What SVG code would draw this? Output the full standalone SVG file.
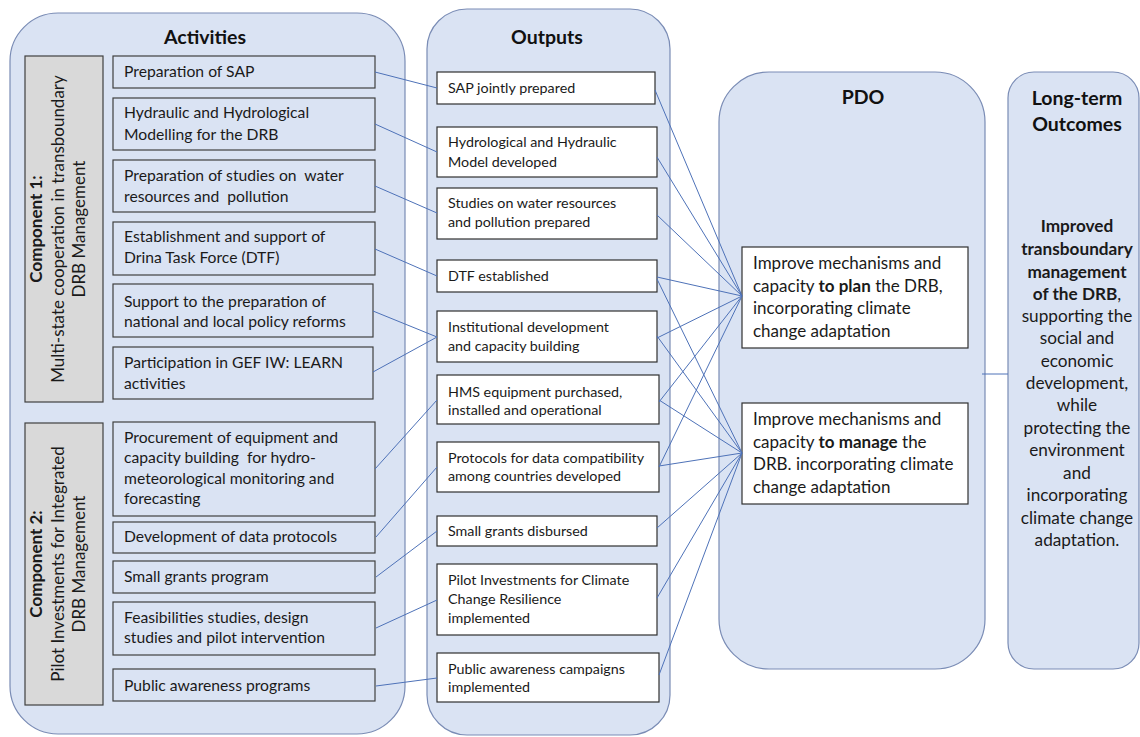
<svg xmlns="http://www.w3.org/2000/svg" width="1140" height="737" viewBox="0 0 1140 737">
<style>
.cont{fill:#DAE3F3;stroke:#7A8CB5;stroke-width:1.2}
.comp{fill:#D9D9D9;stroke:#404040;stroke-width:1.2}
.act{fill:#DAE3F3;stroke:#404040;stroke-width:1.2}
.box{fill:#FFFFFF;stroke:#303030;stroke-width:1.2}
.t{font-family:Lato,"Open Sans",sans-serif;fill:#1a1a1a}
.ta{font-size:15.7px}
.to{font-size:14.3px}
.tp{font-size:17px}
.tl{font-size:17.2px;text-anchor:middle}
.h{font-family:Lato,"Open Sans",sans-serif;font-weight:bold;font-size:19.5px;text-anchor:middle;fill:#111}
.c{font-size:17px;text-anchor:middle}
.b{font-weight:bold}
#connectors line{stroke:#4E72B8;stroke-width:1}
</style>
<rect width="1140" height="737" fill="#FFFFFF"/>

<g id="activities">
<rect class="cont" x="10" y="13" width="395" height="721" rx="48"/>
<text class="h" x="205" y="44">Activities</text>
</g>

<g id="component1">
<rect class="comp" x="25" y="56" width="78" height="346"/>
<text class="t c" transform="translate(64,229) rotate(-90)"><tspan class="b" x="0" y="-22">Component 1:</tspan><tspan x="0" y="0">Multi-state cooperation in transboundary</tspan><tspan x="0" y="21">DRB Management</tspan></text>
</g>

<g id="component2">
<rect class="comp" x="25" y="423" width="78" height="282"/>
<text class="t c" transform="translate(64,564) rotate(-90)"><tspan class="b" x="0" y="-22">Component 2:</tspan><tspan x="0" y="0">Pilot Investments for Integrated</tspan><tspan x="0" y="21">DRB Management</tspan></text>
</g>

<g id="a1"><rect class="act" x="113" y="56" width="262" height="32"/><text class="t ta" x="124" y="77">Preparation of SAP</text></g>
<g id="a2"><rect class="act" x="113" y="98" width="262" height="52"/><text class="t ta"><tspan x="124" y="118">Hydraulic and Hydrological</tspan><tspan x="124" y="140">Modelling for the DRB</tspan></text></g>
<g id="a3"><rect class="act" x="113" y="160" width="262" height="52"/><text class="t ta" xml:space="preserve"><tspan x="124" y="181">Preparation of studies on  water</tspan><tspan x="124" y="202">resources and  pollution</tspan></text></g>
<g id="a4"><rect class="act" x="113" y="222" width="262" height="53"/><text class="t ta"><tspan x="124" y="242">Establishment and support of</tspan><tspan x="124" y="263">Drina Task Force (DTF)</tspan></text></g>
<g id="a5"><rect class="act" x="113" y="284" width="260" height="53"/><text class="t ta"><tspan x="124" y="307">Support to the preparation of</tspan><tspan x="124" y="327">national and local policy reforms</tspan></text></g>
<g id="a6"><rect class="act" x="113" y="347" width="260" height="52"/><text class="t ta"><tspan x="124" y="368">Participation in GEF IW: LEARN</tspan><tspan x="124" y="389">activities</tspan></text></g>
<g id="a7"><rect class="act" x="113" y="422" width="262" height="94"/><text class="t ta" xml:space="preserve"><tspan x="124" y="443">Procurement of equipment and</tspan><tspan x="124" y="463">capacity building  for hydro-</tspan><tspan x="124" y="484">meteorological monitoring and</tspan><tspan x="124" y="504">forecasting</tspan></text></g>
<g id="a8"><rect class="act" x="113" y="522" width="262" height="31"/><text class="t ta" x="124" y="542">Development of data protocols</text></g>
<g id="a9"><rect class="act" x="113" y="561" width="262" height="32"/><text class="t ta" x="124" y="582">Small grants program</text></g>
<g id="a10"><rect class="act" x="113" y="602" width="262" height="53"/><text class="t ta"><tspan x="124" y="623">Feasibilities studies, design</tspan><tspan x="124" y="643">studies and pilot intervention</tspan></text></g>
<g id="a11"><rect class="act" x="113" y="669" width="262" height="32"/><text class="t ta" x="124" y="691">Public awareness programs</text></g>

<g id="outputs">
<rect class="cont" x="427" y="9" width="243" height="726" rx="40"/>
<text class="h" x="547" y="44">Outputs</text>
</g>

<g id="o1"><rect class="box" x="437" y="72" width="218" height="32"/><text class="t to" x="448" y="93">SAP jointly prepared</text></g>
<g id="o2"><rect class="box" x="437" y="127" width="220" height="50"/><text class="t to"><tspan x="448" y="147">Hydrological and Hydraulic</tspan><tspan x="448" y="167">Model developed</tspan></text></g>
<g id="o3"><rect class="box" x="437" y="188" width="220" height="51"/><text class="t to"><tspan x="448" y="208">Studies on water resources</tspan><tspan x="448" y="227">and pollution prepared</tspan></text></g>
<g id="o4"><rect class="box" x="437" y="260" width="220" height="32"/><text class="t to" x="448" y="281">DTF established</text></g>
<g id="o5"><rect class="box" x="437" y="311" width="220" height="51"/><text class="t to"><tspan x="448" y="332">Institutional development</tspan><tspan x="448" y="351">and capacity building</tspan></text></g>
<g id="o6"><rect class="box" x="437" y="375" width="222" height="49"/><text class="t to"><tspan x="448" y="397">HMS equipment purchased,</tspan><tspan x="448" y="415">installed and operational</tspan></text></g>
<g id="o7"><rect class="box" x="437" y="442" width="222" height="50"/><text class="t to"><tspan x="448" y="463">Protocols for data compatibility</tspan><tspan x="448" y="481">among countries developed</tspan></text></g>
<g id="o8"><rect class="box" x="437" y="516" width="220" height="30"/><text class="t to" x="448" y="536">Small grants disbursed</text></g>
<g id="o9"><rect class="box" x="437" y="564" width="220" height="71"/><text class="t to"><tspan x="448" y="585">Pilot Investments for Climate</tspan><tspan x="448" y="604">Change Resilience</tspan><tspan x="448" y="623">implemented</tspan></text></g>
<g id="o10"><rect class="box" x="437" y="653" width="222" height="49"/><text class="t to"><tspan x="448" y="674">Public awareness campaigns</tspan><tspan x="448" y="692">implemented</tspan></text></g>

<g id="pdo">
<rect class="cont" x="719" y="72" width="266" height="597" rx="50"/>
<text class="h" x="863" y="104">PDO</text>
</g>
<g id="p1"><rect class="box" x="742" y="247" width="226" height="101"/><text class="t tp"><tspan x="753" y="269">Improve mechanisms and</tspan><tspan x="753" y="292">capacity <tspan class="b">to plan</tspan> the DRB,</tspan><tspan x="753" y="314">incorporating climate</tspan><tspan x="753" y="337">change adaptation</tspan></text></g>
<g id="p2"><rect class="box" x="742" y="403" width="226" height="101"/><text class="t tp"><tspan x="753" y="425">Improve mechanisms and</tspan><tspan x="753" y="448">capacity <tspan class="b">to manage</tspan> the</tspan><tspan x="753" y="470">DRB. incorporating climate</tspan><tspan x="753" y="493">change adaptation</tspan></text></g>

<g id="longterm">
<rect class="cont" x="1008" y="72" width="131" height="597" rx="26"/>
<text class="h"><tspan x="1077" y="105">Long-term</tspan><tspan x="1077" y="131">Outcomes</tspan></text>
<text class="t tl"><tspan class="b" x="1077" y="232">Improved</tspan><tspan class="b" x="1077" y="255">transboundary</tspan><tspan class="b" x="1077" y="278">management</tspan><tspan x="1077" y="300"><tspan class="b">of the DRB</tspan>,</tspan><tspan x="1077" y="322">supporting the</tspan><tspan x="1077" y="344">social and</tspan><tspan x="1077" y="367">economic</tspan><tspan x="1077" y="389">development,</tspan><tspan x="1077" y="411">while</tspan><tspan x="1077" y="434">protecting the</tspan><tspan x="1077" y="456">environment</tspan><tspan x="1077" y="479">and</tspan><tspan x="1077" y="501">incorporating</tspan><tspan x="1077" y="524">climate change</tspan><tspan x="1077" y="546">adaptation.</tspan></text>
</g>

<g id="connectors">
<line x1="375" y1="72" x2="437" y2="88"/>
<line x1="375" y1="124" x2="437" y2="152"/>
<line x1="375" y1="186" x2="437" y2="213"/>
<line x1="375" y1="249" x2="437" y2="276"/>
<line x1="373" y1="311" x2="437" y2="337"/>
<line x1="373" y1="372" x2="437" y2="337"/>
<line x1="375" y1="469" x2="437" y2="400"/>
<line x1="376" y1="537" x2="437" y2="467"/>
<line x1="376" y1="577" x2="437" y2="531"/>
<line x1="376" y1="628" x2="437" y2="600"/>
<line x1="376" y1="686" x2="437" y2="678"/>
<line x1="655" y1="90" x2="742" y2="296"/>
<line x1="657" y1="157" x2="742" y2="296"/>
<line x1="657" y1="215" x2="742" y2="296"/>
<line x1="657" y1="277" x2="742" y2="296"/>
<line x1="657" y1="338" x2="742" y2="296"/>
<line x1="659" y1="402" x2="742" y2="296"/>
<line x1="659" y1="467" x2="742" y2="296"/>
<line x1="657" y1="279" x2="742" y2="453"/>
<line x1="657" y1="336" x2="742" y2="453"/>
<line x1="659" y1="400" x2="742" y2="453"/>
<line x1="659" y1="466" x2="742" y2="453"/>
<line x1="657" y1="528" x2="742" y2="453"/>
<line x1="657" y1="598" x2="742" y2="453"/>
<line x1="659" y1="675" x2="742" y2="453"/>
<line x1="982" y1="374" x2="1008" y2="374"/>
</g>
</svg>
